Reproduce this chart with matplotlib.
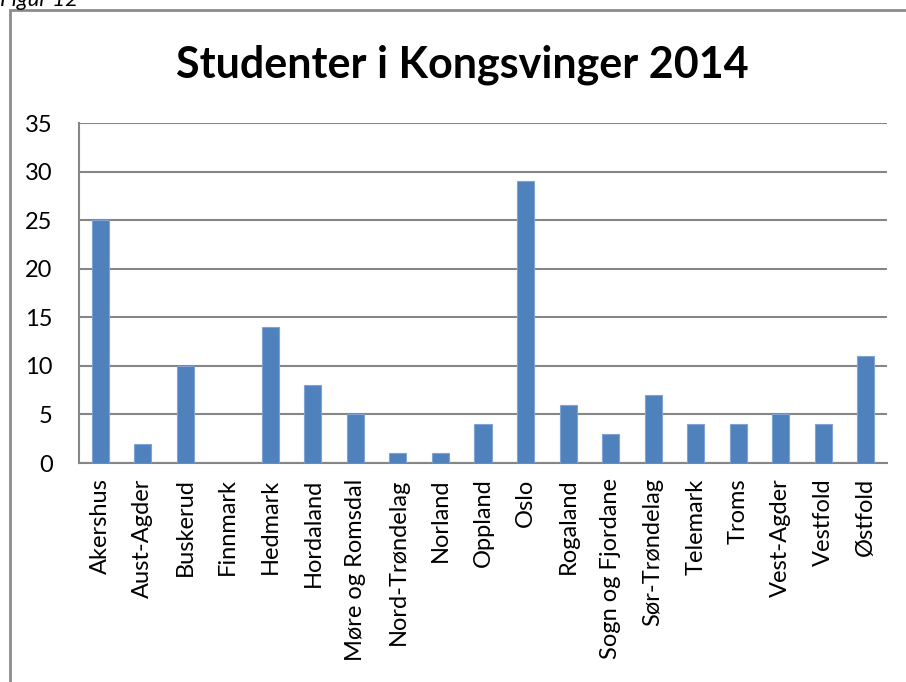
import numpy as np
import matplotlib.pyplot as plt
from matplotlib.patches import Rectangle

fylker = ["Akershus", "Aust-Agder", "Buskerud", "Finnmark", "Hedmark", "Hordaland",
          "Møre og Romsdal", "Nord-Trøndelag", "Norland", "Oppland", "Oslo", "Rogaland",
          "Sogn og Fjordane", "Sør-Trøndelag", "Telemark", "Troms", "Vest-Agder",
          "Vestfold", "Østfold"]
studenter = [25, 2, 10, 0, 14, 8, 5, 1, 1, 4, 29, 6, 3, 7, 4, 4, 5, 4, 11]
y_ticks = [0, 5, 10, 15, 20, 25, 30, 35]

plt.rcParams['font.family'] = ['Lato', 'DejaVu Sans']
grey = "#868686"

fig = plt.figure(figsize=(9.06, 6.82), dpi=100)

# chart frame (Excel chart area border)
fig.patches.append(Rectangle((10/906, -0.1), 1.2, 1 - 10/682 + 0.1, transform=fig.transFigure,
                             fill=False, edgecolor="#8c8c8c", linewidth=2))
fig.text(0.0, 1 - 6/682, "Figur 12", style="italic", fontsize=16, ha="left", va="baseline")

ax = fig.add_axes([79/906, 1 - 463/682, (887 - 79)/906, (463 - 123)/682])
x = np.arange(len(fylker))
ax.bar(x, studenter, width=0.4, color="#4F81BD", edgecolor="#7ea3d4", linewidth=0.8, zorder=3)

ax.set_ylim(0, 35)
ax.set_xlim(-0.5, len(fylker) - 0.5)
ax.set_yticks(y_ticks)
ax.set_xticks(x)
ax.set_xticklabels(fylker, rotation=90)
ax.tick_params(axis="both", length=0, labelsize=17, colors="black")
ax.tick_params(axis="y", pad=19)
ax.tick_params(axis="x", pad=11)
ax.grid(axis="y", color=grey, linewidth=1.5, zorder=0)

for s in ["top", "right"]:
    ax.spines[s].set_visible(False)
ax.spines["left"].set_color(grey)
ax.spines["bottom"].set_color(grey)
ax.spines["left"].set_linewidth(1.5)
ax.spines["bottom"].set_linewidth(1.5)

fig.text(462/906, 1 - 65/682, "Studenter i Kongsvinger 2014", fontsize=31, fontweight="bold",
         ha="center", va="center")

fig.savefig("out.png", dpi=100)
